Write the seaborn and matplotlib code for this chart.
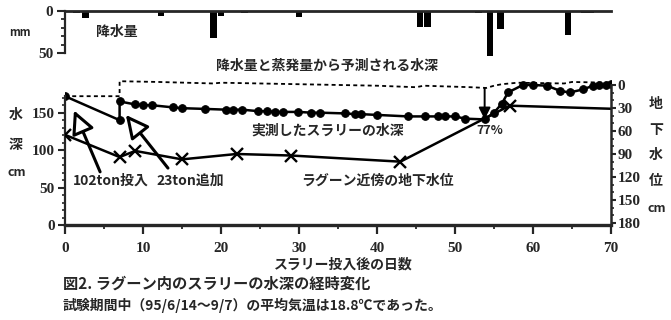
import numpy as np
import pandas as pd
import matplotlib
matplotlib.use("Agg")
import matplotlib.pyplot as plt
import seaborn as sns
from matplotlib.ticker import FixedLocator

sns.set_style("ticks")
plt.rcParams["font.family"] = ["Noto Sans CJK JP", "DejaVu Sans"]

# ---------------- data ----------------
rain_day = [1.5, 2.6, 6.0, 12.3, 19.0, 20.0, 23.0, 30.0, 45.5, 46.5, 53.0, 54.5, 55.8, 58.7, 64.5, 66.6, 67.4]
rain_mm = [2, 8, 1, 6, 32, 6, 2, 7, 19, 19, 2, 54, 22, 1, 29, 2, 2]

meas_day = [0, 7, 7, 9, 10, 11.1, 13.9, 15, 18, 20.7, 21.6, 22.7, 24.8, 25.9, 26.9, 28, 29.9,
            31.6, 32.7, 35.9, 37.2, 38, 40, 44, 46.2, 47.8, 48.7, 50, 51.3, 53.8, 55, 56,
            56.8, 58.7, 60, 61.8, 63.5, 64.7, 66.4, 67.7, 68.5, 69.3, 70]
meas_cm = [172, 140, 165, 161, 160, 160, 157, 156, 155, 154, 154, 154, 152, 152, 151, 151, 151,
           150, 150, 149, 148, 148, 147, 145, 145, 145, 145, 145, 142, 141, 150, 162,
           177, 187, 187, 186, 179, 177, 181, 186, 187, 187, 188]

pred_day = [0, 7, 7, 12, 19, 20, 30, 40, 45, 46, 52, 54, 55, 56, 58, 64, 65, 70]
pred_cm = [172, 172, 192, 191, 189, 190, 188, 186, 184, 186, 184, 183, 186, 188, 190, 189, 191, 190]

gw_day = [0, 7, 9, 15, 22, 29, 43, 57, 70]
gw_cm = [65, 94, 86, 97, 90, 92, 100, 27, 31]

x_ticks = [0, 10, 20, 30, 40, 50, 60, 70]
left_ticks = [0, 50, 100, 150]
right_ticks = [0, 30, 60, 90, 120, 150, 180]
rain_ticks = [0, 50]

W, H = 671, 320
NUM = dict(family="Liberation Serif", weight="bold", size=11)
JP = dict(family=["Noto Sans CJK JP", "DejaVu Sans"], weight="bold")


def T(x, y, s, **kw):
    kw.setdefault("ha", "center")
    kw.setdefault("va", "center")
    d = dict(JP)
    d.update(kw)
    fig.text(x / W, 1 - y / H, s, **d)


fig = plt.figure(figsize=(W / 100, H / 100), dpi=100)

# ---------------- rain panel ----------------
axr = fig.add_axes([65 / W, 1 - 60 / H, 546 / W, 49 / H])
sns.barplot(x=rain_day, y=rain_mm, native_scale=True, ax=axr, color="black",
            saturation=1, width=1.07, errorbar=None, linewidth=0)
axr.set_xlim(0, 70)
axr.set_ylim(58.3, 0)
axr.set_xticks([])
axr.yaxis.set_major_locator(FixedLocator(rain_ticks))
axr.yaxis.set_minor_locator(FixedLocator([10, 20, 30, 40]))
for s in ["right", "bottom"]:
    axr.spines[s].set_visible(False)
axr.spines["left"].set_bounds(0, 50)
axr.spines["left"].set_linewidth(1.6)
axr.spines["top"].set_linewidth(2.0)
axr.tick_params(axis="y", which="major", length=5.8, width=1.5, pad=2.5)
axr.tick_params(axis="y", which="minor", length=2.6, width=1.3)
axr.set_yticklabels([str(t) for t in rain_ticks], **NUM)
axr.set_xlabel("")
axr.set_ylabel("")

# ---------------- main panel ----------------
ax = fig.add_axes([65 / W, 95 / H, 546 / W, 147 / H])
ax2 = ax.twinx()

sns.lineplot(x=pred_day, y=pred_cm, ax=ax, sort=False, estimator=None, color="black",
             linewidth=1.3, linestyle=(0, (2.2, 1.8)))
sns.lineplot(x=meas_day, y=meas_cm, ax=ax, sort=False, estimator=None, color="black",
             linewidth=1.8, marker="o", markersize=5.5, markeredgecolor="black")
sns.lineplot(x=gw_day, y=gw_cm, ax=ax2, sort=False, estimator=None, color="black",
             linewidth=1.8, marker="x", markersize=8, markeredgewidth=1.7,
             markeredgecolor="black", markevery=list(range(len(gw_day) - 1)))

ax.set_xlim(0, 70)
ax.set_ylim(0, 196.3)
ax2.set_ylim(182.6, -9.1)

ax.spines["top"].set_visible(False)
ax.spines["right"].set_visible(False)
for s in ["top", "left", "bottom"]:
    ax2.spines[s].set_visible(False)
ax.spines["left"].set_bounds(0, 172)
ax.spines["left"].set_linewidth(1.6)
ax.spines["bottom"].set_linewidth(2.4)
ax2.spines["right"].set_bounds(0, 180)
ax2.spines["right"].set_linewidth(1.8)

ax.xaxis.set_major_locator(FixedLocator(x_ticks))
ax.xaxis.set_minor_locator(FixedLocator([5, 15, 25, 35, 45, 55, 65]))
ax.yaxis.set_major_locator(FixedLocator(left_ticks))
ax.yaxis.set_minor_locator(FixedLocator(list(range(10, 171, 10))))
ax2.yaxis.set_major_locator(FixedLocator(right_ticks))
ax2.yaxis.set_minor_locator(FixedLocator(list(range(10, 180, 10))))

ax.tick_params(axis="x", which="major", length=6.5, width=1.6, pad=6)
ax.tick_params(axis="x", which="minor", length=3, width=1.3)
ax.tick_params(axis="y", which="major", length=5, width=1.5, pad=2.5)
ax.tick_params(axis="y", which="minor", length=2.5, width=1.2)
ax2.tick_params(axis="y", which="major", length=3.6, width=1.5, pad=1)
ax2.tick_params(axis="y", which="minor", length=2.2, width=1.2)

ax.set_xticklabels([str(t) for t in x_ticks], **NUM)
ax.set_yticklabels([str(t) for t in left_ticks], **NUM)
ax2.set_yticklabels([str(t) for t in right_ticks], **NUM)
for a in (ax, ax2):
    a.set_xlabel("")
    a.set_ylabel("")

# arrows
ax.annotate("", xy=(1.15, 153), xytext=(4.5, 71),
            arrowprops=dict(arrowstyle="-|>,head_length=1.0,head_width=0.5", fc="white",
                            ec="black", lw=2.2, mutation_scale=14, shrinkA=0, shrinkB=0))
ax.annotate("", xy=(7.8, 147), xytext=(13.2, 76),
            arrowprops=dict(arrowstyle="-|>,head_length=1.0,head_width=0.5", fc="white",
                            ec="black", lw=2.2, mutation_scale=14, shrinkA=0, shrinkB=0))
ax.annotate("", xy=(53.8, 141), xytext=(53.8, 183),
            arrowprops=dict(arrowstyle="-|>,head_length=0.5,head_width=0.25", fc="black",
                            ec="black", lw=1.4, mutation_scale=14, shrinkA=0, shrinkB=0))

# ---------------- texts ----------------
T(20, 33, "mm", size=8)
T(117, 32, "降水量", size=10)
T(327, 66, "降水量と蒸発量から予測される水深", size=10)
T(328, 131, "実測したスラリーの水深", size=10)
T(490, 131, "77%", size=9)
T(377, 181, "ラグーン近傍の地下水位", size=10)
T(111, 181, "102ton投入", size=10)
T(190, 181, "23ton追加", size=10)
T(16, 115, "水", size=10)
T(16, 145, "深", size=10)
T(17, 172, "cm", size=9)
T(656, 104, "地", size=10)
T(656, 130, "下", size=10)
T(656, 155, "水", size=10)
T(656, 181, "位", size=10)
T(657, 209, "cm", size=9)
T(343, 264, "スラリー投入後の日数", size=10)
T(63, 284, "図2. ラグーン内のスラリーの水深の経時変化", size=11, ha="left")
T(63, 305, "試験期間中（95/6/14～9/7）の平均気温は18.8℃であった。", size=10, ha="left")

fig.savefig("out.png", dpi=100)
